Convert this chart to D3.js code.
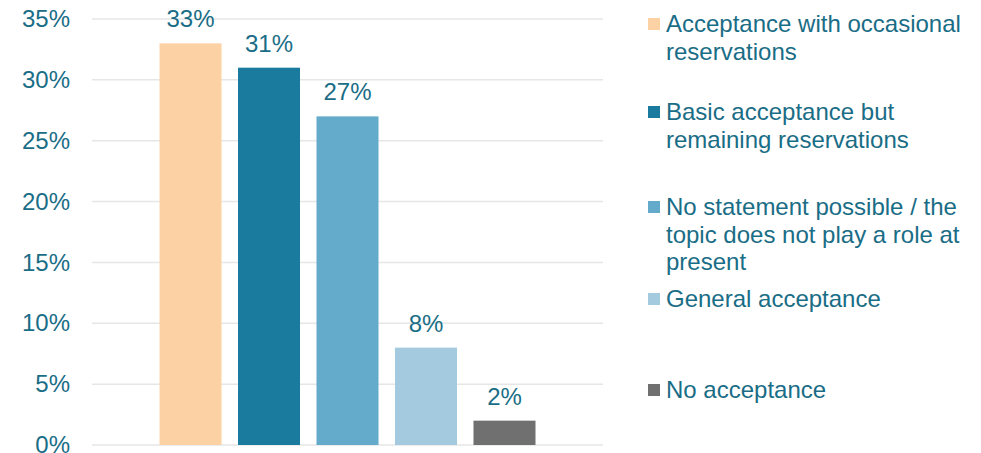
<!DOCTYPE html>
<html>
<head>
<meta charset="utf-8">
<script src="https://cdn.jsdelivr.net/npm/d3@7"></script>
<style>
html,body{margin:0;padding:0;background:#fff;}
svg{display:block;font-family:"Liberation Sans",Arial,sans-serif;}
</style>
</head>
<body>
<svg id="chart" width="981" height="453"></svg>
<script>
const categories = [
  "Acceptance with occasional reservations",
  "Basic acceptance but remaining reservations",
  "No statement possible / the topic does not play a role at present",
  "General acceptance",
  "No acceptance"
];
const values = [33, 31, 27, 8, 2];
const colors = ["#FCD2A5", "#1B7B9F", "#64AACB", "#A4CAE0", "#707070"];
const legendLines = [
  ["Acceptance with occasional", "reservations"],
  ["Basic acceptance but", "remaining reservations"],
  ["No statement possible / the", "topic does not play a role at", "present"],
  ["General acceptance"],
  ["No acceptance"]
];
const yTicks = [0, 5, 10, 15, 20, 25, 30, 35];

const textColor = "#1A6D86";
const svg = d3.select("#chart");

const x = d3.scaleBand().domain(categories).range([92, 603]).paddingInner(0.21).paddingOuter(0.86);
const y = d3.scaleLinear().domain([0, 35]).range([445, 19]);

// gridlines
svg.append("g").selectAll("line").data(yTicks).join("line")
  .attr("x1", 92).attr("x2", 603)
  .attr("y1", d => y(d)).attr("y2", d => y(d))
  .attr("stroke", "#E6E6E6").attr("stroke-width", 1.5);

// y axis
const yAxis = d3.axisLeft(y).tickValues(yTicks).tickFormat(d => d + "%").tickSize(0).tickPadding(0);
const ga = svg.append("g").attr("transform", "translate(70,0)").call(yAxis);
ga.select(".domain").remove();
ga.selectAll("text").attr("fill", textColor).style("font-size", "24px")
  .style("font-family", "'Liberation Sans',Arial,sans-serif");

// bars
svg.append("g").selectAll("rect").data(values).join("rect")
  .attr("x", (d, i) => x(categories[i]))
  .attr("width", x.bandwidth())
  .attr("y", d => y(d))
  .attr("height", d => y(0) - y(d))
  .attr("fill", (d, i) => colors[i]);

// value labels
svg.append("g").selectAll("text").data(values).join("text")
  .attr("x", (d, i) => x(categories[i]) + x.bandwidth() / 2)
  .attr("y", d => y(d) - 16)
  .attr("text-anchor", "middle")
  .attr("fill", textColor)
  .style("font-size", "24px")
  .text(d => d + "%");

// legend
const legendY = [24, 112, 207, 299, 390];
const lg = svg.append("g");
legendLines.forEach((lines, i) => {
  lg.append("rect").attr("x", 648).attr("y", legendY[i] - 6).attr("width", 12).attr("height", 12).attr("fill", colors[i]);
  lines.forEach((ln, j) => {
    lg.append("text").attr("x", 666).attr("y", legendY[i] + j * 27.5)
      .attr("dy", "0.35em").attr("fill", textColor).style("font-size", "24px").text(ln);
  });
});
</script>
</body>
</html>
